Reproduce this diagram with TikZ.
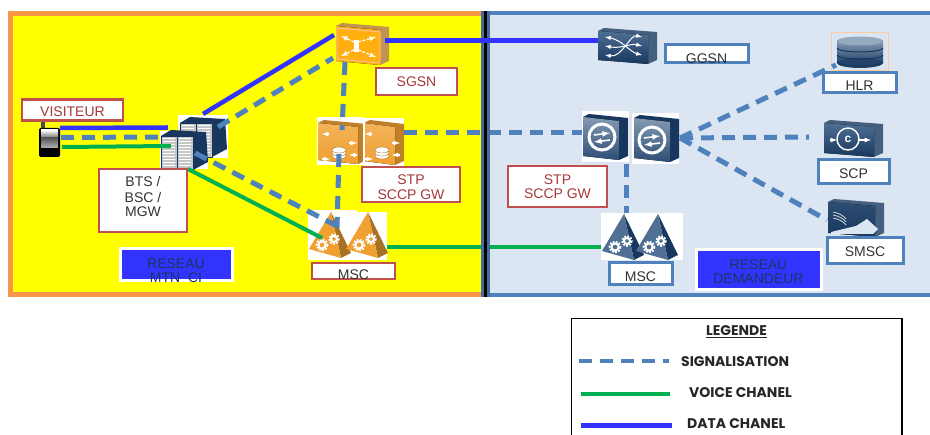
\documentclass[tikz,border=0pt]{standalone}
\usepackage{fontspec}
\setmainfont{Liberation Sans}
\newfontfamily\legendfont{Poppins}
\definecolor{orangeline}{HTML}{F79646}
\definecolor{blueline}{HTML}{4F81BD}
\definecolor{bluefill}{HTML}{DCE6F2}
\definecolor{redline}{HTML}{C0504D}
\definecolor{redtext}{HTML}{A5383A}
\definecolor{greenline}{HTML}{00B050}
\definecolor{dataline}{HTML}{3333FF}
\definecolor{navy}{HTML}{17375E}
\definecolor{steel}{HTML}{4F6F94}
\definecolor{amber}{HTML}{F0A030}
\definecolor{netyellow}{HTML}{FFFF00}
\definecolor{gold}{HTML}{FFB010}
\newcommand{\lowtext}[2]{\raisebox{#1}[0pt][0pt]{#2}}
\tikzset{
  sig/.style={draw=blueline,line width=5,dash pattern=on 13pt off 8pt},
  voice/.style={draw=greenline,line width=4},
  data/.style={draw=dataline,line width=4.5},
  redbox/.style={draw=redline,fill=white,line width=2.5,text=redtext,inner sep=0pt,font=\fontsize{14}{15}\selectfont,align=center},
  bluebox/.style={draw=blueline,fill=white,line width=3,text=black!80,inner sep=0pt,font=\fontsize{14}{16}\selectfont},
  netbox/.style={draw=white,fill=dataline,line width=3,text=navy,inner sep=0pt,font=\fontsize{14}{15}\selectfont},
  iconbg/.style={fill=white,inner sep=0pt,anchor=north west},
  iconfree/.style={inner sep=0pt,anchor=north west},
  pics/cabinet/.style={code={
    \fill[navy] (0,6) -- (10,0) -- (45,2) -- (47,32) -- (32,40) -- cycle;
    \fill[gray!45,draw=navy,line width=.5] (0,6) rectangle (32,40);
    \foreach \x in {2,18}
      \foreach \y in {9,12,...,36}
        \draw[white,line width=1] (\x,\y) -- (\x+12,\y);
    \draw[navy,line width=1] (16,6) -- (16,40);
  }},
  pics/cube/.style n args={5}{code={
    % front, side and top of a box
    \fill[#2] (0,3) -- (6,0) -- (#4+9,4) -- (#4+9,#5-4) -- (#4,#5) -- cycle;
    \fill[top color=#3,bottom color=#1] (0,3) -- (#4,7) -- (#4,#5) -- (0,#5-4) -- cycle;
  }},
  pics/stpface/.style={code={
    \foreach \y in {13,10,7}
      \draw[fill=white,draw=amber!70!black,line width=.4] (0,\y) ellipse (7 and 3);
    \draw[white,line width=1.2,-latex] (-10,-9) -- (-17,-9);
    \draw[white,line width=1.2,-latex] (10,0) -- (18,0);
    \draw[white,line width=1.2,-latex] (-17,16) -- (-9,16);
    \draw[white,line width=1.2,-latex] (18,12) -- (10,12);
  }},
  pics/swapface/.style={code={
    \draw[white,line width=3] (0,0) circle (13);
    \draw[white,line width=1.6,-latex] (-8,-2) -- (8,-4);
    \draw[white,line width=1.6,-latex] (8,3) -- (-8,5);
  }},
  pics/gear/.style={code={
    \draw[white,line width=2] (0,0) circle (#1);
    \draw[white,line width=2,dash pattern=on 1.8pt off 1.4pt] (0,0) circle (#1+1.8);
  }},
  pics/delta/.style n args={2}{code={
    \fill[#2] (22,0) -- (42,41) -- (32,46) -- cycle;
    \fill[#1] (22,0) -- (32,46) -- (0,37) -- cycle;
    \pic at (13,33) {gear=3.6};
    \pic at (25,27) {gear=3};
  }},
}
\begin{document}
\begin{tikzpicture}[x=1pt,y=-1pt]
\useasboundingbox (0,0) rectangle (930,435);
% the two networks
\draw[draw=orangeline,fill=netyellow,line width=5] (10.5,13.5) rectangle (484,295);
\draw[draw=blueline,fill=bluefill,line width=4] (484,13) rectangle (936,295);

% icon places
\node[iconfree,minimum width=21,minimum height=34] (phone) at (39,123) {};
\node[iconbg,minimum width=50,minimum height=43] (btsb) at (178,115) {};
\node[iconbg,minimum width=48,minimum height=38] (btsa) at (160,131) {};
\node[iconfree,minimum width=52,minimum height=43] (sgsn) at (336,23) {};
\node[iconbg,minimum width=47,minimum height=48] (stpa) at (317,117) {};
\node[iconbg,minimum width=40,minimum height=48] (stpb) at (364,118) {};
\node[iconbg,minimum width=49,minimum height=50] (msca) at (308,210) {};
\node[iconbg,minimum width=42,minimum height=48] (mscb) at (345,212) {};
\node[iconfree,minimum width=59,minimum height=37] (ggsn) at (598,28) {};
\node[iconbg,minimum width=47,minimum height=51] (stpc) at (582,111) {};
\node[iconbg,minimum width=47,minimum height=51] (stpd) at (632,113) {};
\node[iconbg,minimum width=33,minimum height=47] (mscc) at (601,213) {};
\node[iconbg,minimum width=49,minimum height=47] (mscd) at (634,213) {};
\node[iconfree,draw=orangeline!50,line width=1,fill=bluefill,minimum width=57,minimum height=38] (hlr) at (831,32) {};
\node[iconfree,minimum width=58,minimum height=37] (scp) at (824,120) {};
\node[iconfree,minimum width=55,minimum height=38] (smsc) at (828,199) {};

% phone
\fill[black!70] (41,122) rectangle (45,130);
\fill[black,rounded corners=2] (39,128) rectangle (60,157);
\fill[top color=white,bottom color=gray] (41,130) rectangle (58,137);
\fill[top color=black!65,bottom color=black!30] (41,138) rectangle (58,148);
% bts
\begin{scope}[shift={(btsb.north west)}] \pic at (2,2) {cabinet}; \end{scope}
\begin{scope}[shift={(btsa.north west)}] \pic at (1,-1) {cabinet}; \end{scope}
% orange boxes
\pic at (sgsn.north west) {cube={gold}{amber!60!gray}{gold}{44}{42}};
\draw[orangeline!60,line width=1] (337,28) -- (380,32) -- (380,63) -- (337,59) -- cycle;
\foreach \y/\z in {36/42,56/50}{
  \draw[white,line width=1.2,-latex,dash pattern=on 3pt off 1.5pt] (354,\z) -- (341,\y);
  \draw[white,line width=1.2,-latex,dash pattern=on 3pt off 1.5pt] (358,\z) -- (376,\y+1);
}
\fill[white] (354,40) rectangle (359,52);
\pic at (318,120) {cube={amber}{amber!80!black}{amber!80!white}{40}{44}};
\pic at (364,120) {cube={amber}{amber!80!black}{amber!80!white}{31}{45}};
\pic at (339,143) {stpface};
\pic at (382,143) {stpface};
\fill[white] (363,118) rectangle (365,165);
\pic at (309,212) {delta={amber}{amber!70!black}};
\pic at (346,212) {delta={amber}{amber!70!black}};
% blue boxes
\pic at (ggsn.north west) {cube={navy}{navy!80!white}{steel}{50}{36}};
\foreach \y in {37,46,55}
  \draw[white,line width=1,latex-latex] (605,\y) .. controls (622,\y+3) and (630,92-\y-3) .. (642,92-\y);
\pic at (583,114) {cube={navy!60!steel}{navy}{steel!70!white}{36}{46}};
\pic at (634,115) {cube={navy!60!steel}{navy}{steel!70!white}{36}{47}};
\pic at (602,137) {swapface};
\pic at (652,140) {swapface};
\pic at (602,214) {delta={steel}{navy}};
\pic at (636,214) {delta={steel}{navy}};
% hlr
\fill[top color=steel!70!white,bottom color=navy!80!steel] (837,41) rectangle (883,63);
\fill[navy!80!steel] (860,63) ellipse (23 and 5);
\foreach \y in {48,55,62}
  \draw[navy,line width=1] (837,\y) arc[start angle=180,end angle=0,x radius=23,y radius=4];
\fill[steel!60!white] (860,41) ellipse (23 and 4.5);
% scp
\pic at (scp.north west) {cube={navy}{navy!80!white}{steel}{50}{37}};
\draw[white,line width=1.4] (848,139) circle (11);
\draw[white,line width=1.2,-latex] (830,140) -- (837,140);
\draw[white,line width=1.2,-latex] (859,140) -- (871,140);
\node[text=white,font=\bfseries\fontsize{12}{12}\selectfont,inner sep=0pt] (scpc) at (848,139) {c};
% smsc
\pic at (smsc.north west) {cube={navy}{navy!80!white}{navy!60!steel}{47}{38}};
\fill[bluefill] (831,232) -- (856,226) -- (867,219) -- (878,229) -- (873,234) -- (831,234) -- cycle;
\foreach \z in {0,3,6}
  \draw[white!80!gray,line width=.7] (833,212+\z) .. controls (838,213+\z) and (843,215+\z) .. (846,219+\z);

% connectors
\coordinate (phoneD) at (60,128);
\coordinate (phoneS) at (61,137.5);
\coordinate (phoneV) at (62,147);
\coordinate (btsD) at (168,127.5);
\coordinate (btsS) at (160,137);
\coordinate (btsV) at (171,146);
\draw[data] (phoneD) -- (btsD);
\draw[sig] (phoneS) -- (btsS);
\draw[voice] (phoneV) -- (btsV);
\coordinate (btsbD) at (203,114);
\coordinate (btsbS) at (218,127);
\coordinate (btsaS) at (195,153);
\coordinate (btsaV) at (188,169);
\coordinate (sgsnD) at (334,35);
\coordinate (sgsnS) at (333,58);
\coordinate (sgsnT) at (345,62);
\coordinate (stpaT) at (342,130);
\coordinate (stpaB) at (339,154);
\coordinate (mscaT) at (337,228);
\coordinate (mscaS) at (337,226);
\coordinate (mscaV) at (322,238);
\draw[data] (btsbD) -- (sgsnD);
\draw[sig] (btsbS) -- (sgsnS);
\draw[sig] (btsaS) -- (mscaS);
\draw[voice] (btsaV) -- (mscaV);
\draw[sig] (sgsnT) -- (stpaT);
\draw[sig] (stpaB) -- (mscaT);
\draw[sig] (stpb.east |- 0,132.5) -- (stpc.west |- 0,132.5);
\draw[voice] (mscb.east |- 0,247.5) -- (mscc.west |- 0,247.5);
\draw[sig] (626,164) -- (626,213);
\coordinate (stpdR) at (680,138);
\coordinate (hlrP) at (836,65);
\coordinate (scpP) at (809,137);
\coordinate (smscP) at (827,220);
\draw[sig] (stpdR) -- (hlrP);
\draw[sig] (stpdR) -- (scpP);
\draw[sig] (stpdR) -- (smscP);
% border between the networks
\draw[draw=blueline!85!black,line width=9] (485.5,11) -- (485.5,297);
\draw[line width=3] (485.5,11) -- (485.5,297);
\draw[data] (385,40.5) -- (ggsn.west |- 0,40.5);

% labels
\node[redbox,minimum width=101,minimum height=21] (visiteur) at (72.5,110) {\lowtext{-7pt}{VISITEUR}};
\node[redbox,minimum width=88,minimum height=63,text=black!80] (bts) at (143,200.5) {\lowtext{-16.5pt}{\shortstack{BTS /\\[2pt]BSC /\\[2pt]MGW}}};
\node[redbox,minimum width=81,minimum height=27] (sgsnl) at (416.5,81.5) {\lowtext{-5pt}{SGSN}};
\node[redbox,minimum width=98,minimum height=35] (stpl) at (411,184.5) {\lowtext{-15pt}{\shortstack{STP\\[2pt]SCCP GW}}};
\node[redbox,minimum width=83,minimum height=16,text=black!80] (mscl) at (353.5,271) {\lowtext{-9pt}{MSC}};
\node[redbox,minimum width=99,minimum height=41] (stpr) at (557.5,186.5) {\lowtext{-12.5pt}{\shortstack{STP\\[2pt]SCCP GW}}};
\node[bluebox,minimum width=83,minimum height=18] (ggsnl) at (706.5,54) {\lowtext{-9.5pt}{GGSN}};
\node[bluebox,minimum width=73,minimum height=20] (hlrl) at (859.5,83) {\lowtext{-8pt}{HLR}};
\node[bluebox,minimum width=71,minimum height=24] (scpl) at (853.5,172) {\lowtext{-6.5pt}{SCP}};
\node[bluebox,minimum width=76,minimum height=26] (smscl) at (865,251) {\lowtext{-6pt}{SMSC}};
\node[bluebox,minimum width=63,minimum height=22] (msclr) at (640.5,274) {\lowtext{-8pt}{MSC}};
\node[netbox,minimum width=112,minimum height=32] (mtn) at (176,265) {\lowtext{-18pt}{\shortstack{RESEAU\\[2pt]MTN\ \ CI}}};
\node[netbox,minimum width=125,minimum height=40] (dem) at (758.5,270) {\lowtext{-14pt}{\shortstack{RESEAU\\[2pt]DEMANDEUR}}};

% legend
\draw[line width=1.5,fill=white] (571.5,318.5) rectangle (902,440);
\begin{scope}[font=\legendfont\bfseries\fontsize{14}{14}\selectfont,text=black!85]
\node[inner sep=0pt] (legende) at (736.5,332) {\underline{LEGENDE}};
\node[inner sep=0pt,anchor=west] (sigtext) at (681,362) {SIGNALISATION};
\node[inner sep=0pt,anchor=west] (voicetext) at (689,393) {VOICE CHANEL};
\node[inner sep=0pt,anchor=west] (datatext) at (687,424) {DATA CHANEL};
\end{scope}
\coordinate (sigkey) at (579,361.5);
\coordinate (voicekey) at (581,394.5);
\coordinate (datakey) at (581,425.5);
\draw[sig,line width=4] (sigkey) -- (669,361.5);
\draw[voice] (voicekey) -- (670,394.5);
\draw[data] (datakey) -- (672,425.5);
\end{tikzpicture}
\end{document}
